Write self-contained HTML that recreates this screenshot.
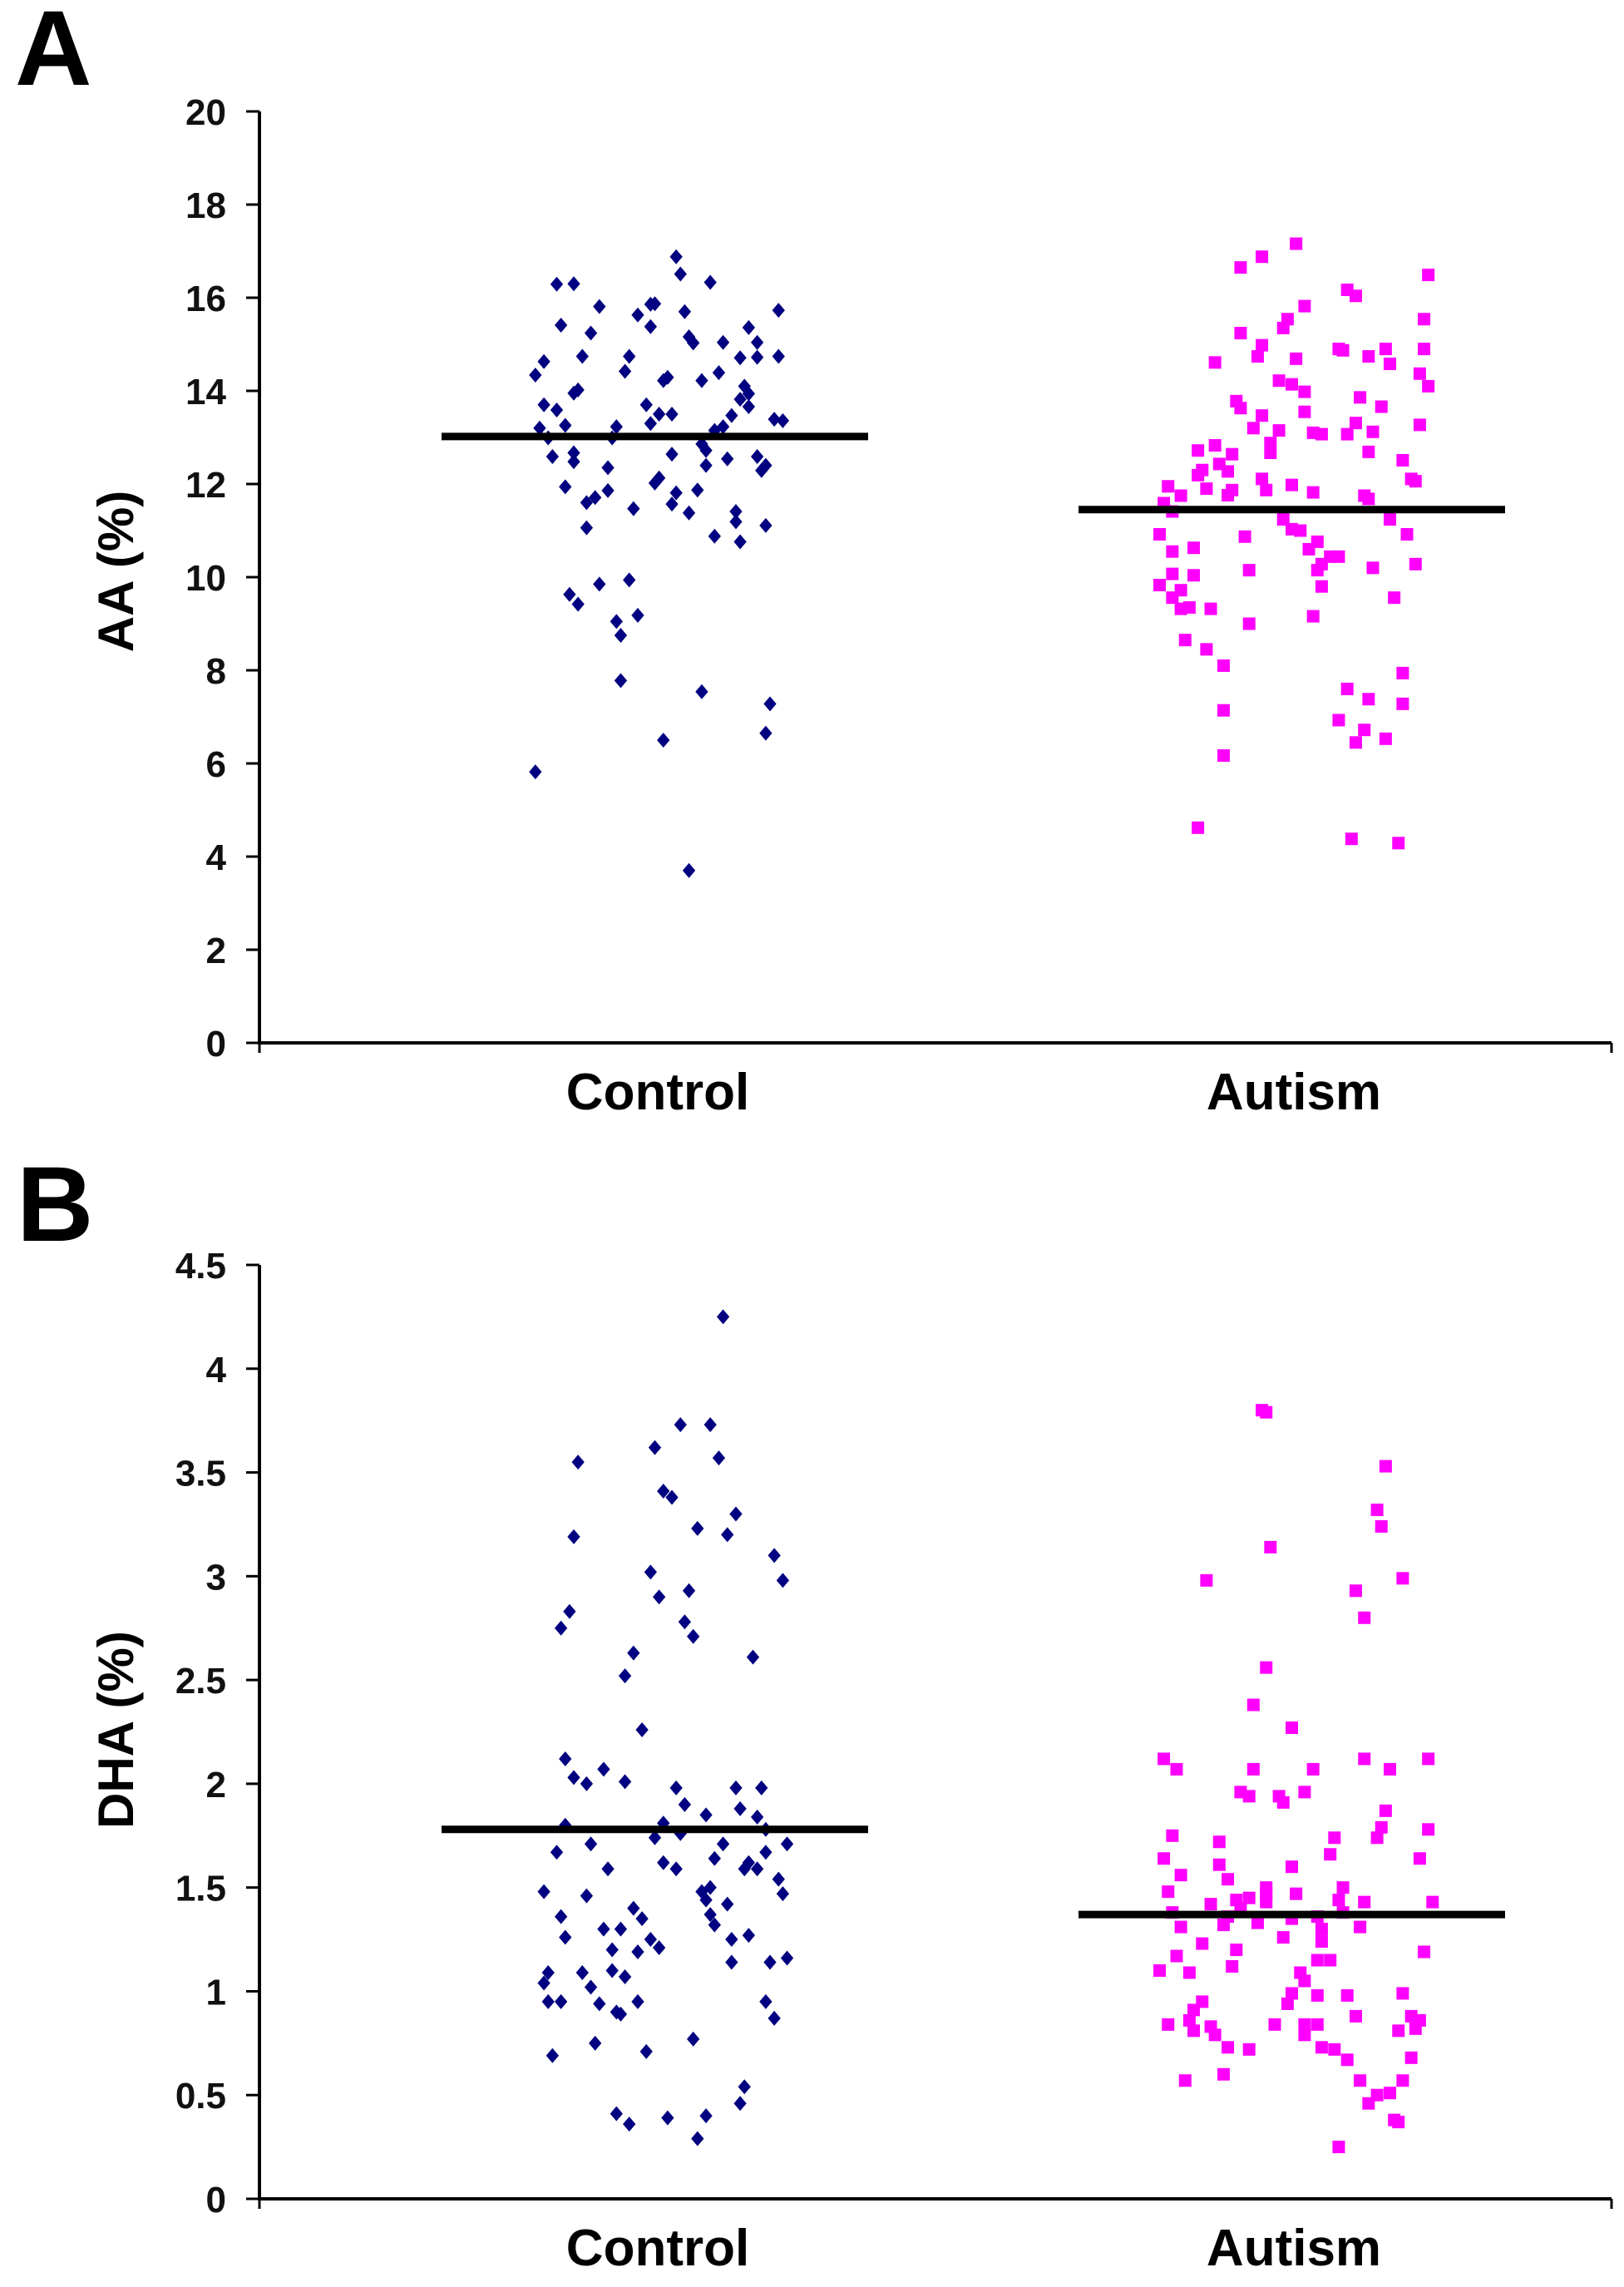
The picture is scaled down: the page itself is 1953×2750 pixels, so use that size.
<!DOCTYPE html>
<html><head><meta charset="utf-8"><style>
html,body{margin:0;padding:0;background:#fff;}
svg{display:block;font-family:"Liberation Sans",Arial,sans-serif;}
</style></head><body>
<svg id="fig" width="1953" height="2750" viewBox="0 0 1953 2750" xmlns="http://www.w3.org/2000/svg">
<text x="18" y="102" font-size="128" font-weight="bold">A</text>
<text x="20" y="1492" font-size="128" font-weight="bold">B</text>
<g id="panelA"></g>
<g id="panelB"></g>
</svg>
<script>
const categories = ["Control","Autism"];
// Panel A: AA (%) values and horizontal jitter (fraction of group width)
const aaTicks = [0,2,4,6,8,10,12,14,16,18,20];
const aaMeans = [13.02, 11.45];
const aaControl = [5.82,3.70,6.5,7.54,7.28,6.65,7.78,8.75,9.05,9.18,9.85,9.94,9.63,9.42,11.06,11.6,11.71,11.94,12.67,12.48,12.59,12.99,13.2,13.7,13.59,14.34,14.63,16.29,16.3,15.41,15.24,15.81,14.74,14.02,13.95,13.26,12.35,12.99,13.23,11.86,14.42,14.74,15.63,15.86,15.87,15.38,13.7,13.3,11.47,12.02,12.13,11.57,11.81,11.38,11.87,16.88,16.51,16.33,15.7,15.16,15.03,14.22,14.29,13.5,13.5,12.64,14.22,14.39,15.04,13.15,12.86,12.72,12.4,12.54,13.23,13.47,10.88,11.19,11.41,10.76,15.36,15.04,14.71,14.72,15.73,14.74,14.1,13.94,13.82,13.66,13.39,13.36,12.59,12.4,12.29,11.11];
const aaControlJit = [0.22,0.58,0.52,0.61,0.77,0.76,0.42,0.42,0.41,0.46,0.37,0.44,0.30,0.32,0.34,0.34,0.36,0.29,0.31,0.31,0.26,0.25,0.23,0.24,0.27,0.22,0.24,0.27,0.31,0.28,0.35,0.37,0.33,0.32,0.31,0.29,0.39,0.40,0.41,0.39,0.43,0.44,0.46,0.49,0.50,0.49,0.48,0.49,0.45,0.50,0.51,0.54,0.55,0.58,0.60,0.55,0.56,0.63,0.57,0.58,0.59,0.52,0.53,0.51,0.54,0.54,0.61,0.65,0.66,0.64,0.61,0.62,0.62,0.67,0.66,0.68,0.64,0.69,0.69,0.70,0.72,0.74,0.70,0.74,0.79,0.79,0.71,0.72,0.70,0.72,0.78,0.80,0.74,0.76,0.75,0.76];
const aaAutism = [4.62,4.38,4.29,6.17,7.14,8.1,8.45,8.65,9.32,9.56,9.83,10.07,10.04,10.55,10.63,9.72,9.35,9.32,9.0,10.15,10.87,10.92,11.59,11.95,11.75,11.41,12.19,12.3,12.83,12.43,12.27,12.64,11.76,11.87,12.72,11.9,14.61,13.78,13.63,15.24,16.65,16.88,13.2,13.47,14.74,14.98,12.88,12.67,13.15,14.22,14.14,14.69,15.54,15.35,15.82,17.16,12.11,11.87,11.24,11.98,11.03,11.0,13.98,13.55,13.1,13.07,10.6,10.76,10.15,10.28,10.44,10.44,9.8,9.16,11.82,14.9,14.87,13.07,13.31,13.86,14.74,16.17,16.04,12.69,13.12,13.66,14.9,14.58,11.75,11.68,10.2,11.24,9.56,12.51,12.11,12.06,10.92,10.28,7.94,7.28,7.6,7.38,6.93,6.45,6.72,6.53,13.27,14.37,14.1,14.9,15.54,16.49];
const aaAutismJit = [0.28,0.64,0.75,0.34,0.34,0.34,0.30,0.25,0.24,0.22,0.19,0.22,0.27,0.22,0.27,0.24,0.26,0.31,0.40,0.40,0.39,0.19,0.20,0.21,0.24,0.22,0.28,0.29,0.32,0.33,0.35,0.36,0.35,0.36,0.28,0.30,0.32,0.37,0.38,0.38,0.38,0.43,0.41,0.43,0.42,0.43,0.45,0.45,0.47,0.47,0.50,0.51,0.49,0.48,0.53,0.51,0.43,0.44,0.48,0.50,0.50,0.52,0.53,0.53,0.55,0.57,0.54,0.56,0.56,0.57,0.59,0.61,0.57,0.55,0.55,0.61,0.62,0.63,0.65,0.66,0.68,0.63,0.65,0.68,0.69,0.71,0.72,0.73,0.67,0.68,0.69,0.73,0.74,0.76,0.78,0.79,0.77,0.79,0.76,0.76,0.63,0.68,0.61,0.65,0.67,0.72,0.80,0.80,0.82,0.81,0.81,0.82];
// Panel B: DHA (%)
const dhaTicks = [0,0.5,1,1.5,2,2.5,3,3.5,4,4.5];
const dhaMeans = [1.78, 1.37];
const dhaControl = [4.25,3.73,3.73,3.62,3.57,3.55,3.41,3.38,3.3,3.23,3.2,3.19,3.1,2.98,3.02,2.9,2.93,2.78,2.71,2.83,2.75,2.63,2.52,2.61,2.26,2.12,2.07,2.03,2.0,2.01,1.98,1.9,1.98,1.98,1.88,1.85,1.84,1.8,1.81,1.74,1.76,1.78,1.71,1.71,1.67,1.71,1.64,1.67,1.62,1.59,1.59,1.62,1.59,1.59,1.54,1.47,1.48,1.46,1.48,1.5,1.44,1.42,1.36,1.4,1.35,1.37,1.32,1.26,1.3,1.3,1.25,1.21,1.2,1.19,1.25,1.27,1.14,1.14,1.16,1.09,1.04,1.09,1.1,1.07,1.02,0.95,0.95,0.94,0.95,0.9,0.89,0.95,0.87,0.69,0.75,0.71,0.77,0.54,0.46,0.41,0.36,0.39,0.4,0.29];
const dhaControlJit = [0.66,0.63,0.56,0.50,0.65,0.32,0.52,0.54,0.69,0.60,0.67,0.31,0.78,0.80,0.49,0.51,0.58,0.57,0.59,0.30,0.28,0.45,0.43,0.73,0.47,0.29,0.38,0.31,0.34,0.43,0.55,0.57,0.69,0.75,0.70,0.62,0.74,0.29,0.52,0.50,0.56,0.76,0.81,0.35,0.27,0.66,0.64,0.76,0.52,0.55,0.39,0.72,0.74,0.71,0.79,0.80,0.24,0.34,0.61,0.63,0.62,0.67,0.28,0.45,0.47,0.63,0.64,0.29,0.38,0.42,0.49,0.51,0.40,0.46,0.68,0.72,0.68,0.77,0.81,0.25,0.24,0.33,0.40,0.43,0.35,0.25,0.28,0.37,0.46,0.41,0.42,0.76,0.78,0.26,0.36,0.48,0.59,0.71,0.70,0.41,0.44,0.53,0.62,0.60];
const dhaAutism = [3.8,3.79,3.53,3.32,3.24,3.14,2.98,2.99,2.93,2.8,2.56,2.38,2.27,2.12,2.07,2.07,2.07,2.12,2.07,2.12,1.96,1.94,1.94,1.96,1.91,1.87,1.79,1.74,1.78,1.75,1.72,1.74,1.66,1.64,1.64,1.61,1.6,1.56,1.54,1.48,1.5,1.47,1.47,1.5,1.43,1.42,1.44,1.45,1.43,1.44,1.43,1.38,1.36,1.4,1.35,1.36,1.38,1.31,1.32,1.33,1.3,1.31,1.26,1.24,1.23,1.2,1.15,1.15,1.19,1.17,1.1,1.09,1.12,1.09,1.05,0.99,0.98,0.98,0.99,0.94,0.95,0.91,0.88,0.88,0.86,0.84,0.86,0.83,0.81,0.79,0.84,0.84,0.79,0.84,0.81,0.82,0.73,0.72,0.73,0.72,0.68,0.67,0.57,0.6,0.57,0.57,0.5,0.46,0.51,0.38,0.37,0.25];
const dhaAutismJit = [0.43,0.44,0.72,0.70,0.71,0.45,0.30,0.76,0.65,0.67,0.44,0.41,0.50,0.20,0.23,0.41,0.55,0.67,0.73,0.82,0.38,0.40,0.47,0.53,0.48,0.72,0.71,0.70,0.82,0.22,0.33,0.60,0.59,0.20,0.80,0.33,0.50,0.24,0.35,0.21,0.44,0.44,0.51,0.62,0.83,0.31,0.37,0.40,0.44,0.61,0.67,0.22,0.35,0.38,0.50,0.56,0.62,0.24,0.34,0.42,0.57,0.66,0.48,0.57,0.29,0.37,0.59,0.56,0.81,0.23,0.19,0.26,0.36,0.52,0.53,0.50,0.56,0.63,0.76,0.49,0.29,0.27,0.65,0.78,0.80,0.21,0.26,0.31,0.27,0.32,0.46,0.53,0.53,0.56,0.75,0.79,0.35,0.40,0.57,0.60,0.78,0.63,0.25,0.34,0.66,0.76,0.70,0.68,0.73,0.74,0.75,0.61];

const NS = "http://www.w3.org/2000/svg";
function mk(tag, attrs, parent){ const e=document.createElementNS(NS,tag); for(const k in attrs) e.setAttribute(k,attrs[k]); parent.appendChild(e); return e; }

function drawPanel(g, cfg){
  const axX = 312, right = 1938, yTop = cfg.yTop, yBot = cfg.yBot;
  const yMax = cfg.ticks[cfg.ticks.length-1];
  const yScale = v => yBot - (v / yMax) * (yBot - yTop);
  const groupStart = [531, 1297], groupW = 513;
  const xScale = (gi, f) => groupStart[gi] + f * groupW;

  const yAxis = mk('line',{x1:axX,y1:yTop,x2:axX,y2:yBot,stroke:'#000','stroke-width':4},g);
  
  
  const xAxis = mk('line',{x1:axX-2,y1:yBot,x2:right,y2:yBot,stroke:'#000','stroke-width':4},g);
  
  
  mk('line',{x1:right,y1:yBot,x2:right,y2:yBot+12,stroke:'#000','stroke-width':3},g);
  mk('line',{x1:axX,y1:yBot,x2:axX,y2:yBot+12,stroke:'#000','stroke-width':3},g);

  cfg.ticks.forEach(t=>{
    const y = yScale(t);
    mk('line',{x1:axX-16,y1:y,x2:axX,y2:y,stroke:'#000','stroke-width':3},g);
    const tl = mk('text',{x:272,y:y+16,'text-anchor':'end','font-size':44,'font-weight':'bold',fill:'#111'},g);
    tl.textContent = String(t);
    
    
  });

  const yt = mk('text',{x:0,y:0,'text-anchor':'middle','font-size':60,'font-weight':'bold',fill:'#000',transform:`translate(160,${cfg.titleY}) rotate(-90)`},g);
  yt.textContent = cfg.title;
  
  

  const labX = [791, 1556];
  categories.forEach((c,i)=>{
    const t = mk('text',{x:labX[i],y:yBot+80,'text-anchor':'middle','font-size':62,'font-weight':'bold',fill:'#000'},g);
    t.textContent = c;
    
    
  });

  cfg.ctrl.forEach((v,i)=>{
    const x = xScale(0, cfg.ctrlJit[i]), y = yScale(v), r = 9;
    const p = mk('polygon',{points:`${x},${y-r} ${x+r*0.85},${y} ${x},${y+r} ${x-r*0.85},${y}`,fill:'#000080'},g);
    
    
  });
  cfg.aut.forEach((v,i)=>{
    const x = xScale(1, cfg.autJit[i]), y = yScale(v), s = 15;
    const p = mk('rect',{x:x-s/2,y:y-s/2,width:s,height:s,fill:'#ff00ff'},g);
    
    
  });
  cfg.means.forEach((m,i)=>{
    const y = yScale(m);
    const l = mk('line',{x1:groupStart[i],y1:y,x2:groupStart[i]+groupW,y2:y,stroke:'#000','stroke-width':9},g);
    
    
  });
}

drawPanel(document.getElementById('panelA'),{id:'aa',ticks:aaTicks,yTop:134,yBot:1254,title:'AA (%)',titleY:687,
  ctrl:aaControl,ctrlJit:aaControlJit,aut:aaAutism,autJit:aaAutismJit,means:aaMeans});
drawPanel(document.getElementById('panelB'),{id:'dha',ticks:dhaTicks,yTop:1521,yBot:2644,title:'DHA (%)',titleY:2080,
  ctrl:dhaControl,ctrlJit:dhaControlJit,aut:dhaAutism,autJit:dhaAutismJit,means:dhaMeans});
</script>
</body></html>
